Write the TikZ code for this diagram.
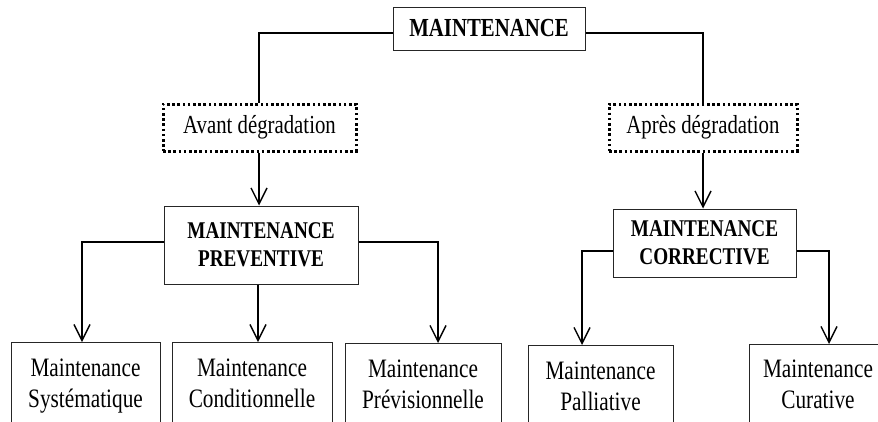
\documentclass[tikz,border=0pt]{standalone}
\usepackage{fontspec}
\setmainfont{Liberation Serif}[FakeStretch=0.8]
\usetikzlibrary{arrows.meta}
\tikzset{
  box/.style={draw=black!85, line width=1pt, inner sep=0pt, align=center},
  dotbox/.style={draw=black, line width=3pt, dash pattern=on 2.6pt off 2.6pt, inner sep=0pt, align=center},
  conn/.style={line width=1.4pt, black},
  arr/.style={conn, -{Straight Barb[length=16pt,width=16pt,line width=1.4pt]}},
  bigbold/.style={font=\fontsize{26}{28}\selectfont\bfseries},
  midbold/.style={font=\fontsize{24}{28}\selectfont\bfseries},
  plain/.style={font=\fontsize{26}{28}\selectfont},
  leaf/.style={font=\fontsize{26.6}{31}\selectfont}
}
\begin{document}
\begin{tikzpicture}[x=1pt,y=-1pt]
\useasboundingbox (0,0) rectangle (878,421);
\clip (0,0) rectangle (878,421);
% main nodes
\node[box,bigbold,minimum width=192pt,minimum height=43pt] (top) at (489,28.5) {MAINTENANCE};
\node[dotbox,plain,minimum width=193pt,minimum height=47pt] (avant) at (259.5,127.5) {Avant dégradation};
\node[dotbox,plain,minimum width=188pt,minimum height=47pt] (apres) at (703,127.5) {Après dégradation};
\node[box,midbold,minimum width=194pt,minimum height=78pt] (prev) at (261,245) {MAINTENANCE\\PREVENTIVE};
\node[box,midbold,minimum width=183pt,minimum height=68pt] (corr) at (704.5,243) {MAINTENANCE\\CORRECTIVE};
% leaf boxes (cut by bottom edge)
\node[box,minimum width=149pt,minimum height=100pt,anchor=north] (b1) at (85.5,342) {};
\node[box,minimum width=160pt,minimum height=100pt,anchor=north] (b2) at (252,342) {};
\node[box,minimum width=156pt,minimum height=100pt,anchor=north] (b3) at (423,343) {};
\node[box,minimum width=145pt,minimum height=100pt,anchor=north] (b4) at (600.5,345) {};
\node[box,minimum width=150pt,minimum height=100pt,anchor=north] (b5) at (824,344) {};
% leaf texts
\node[leaf,align=center,anchor=north] (t1) at (85.5,355) {Maintenance\\Systématique};
\node[leaf,align=center,anchor=north] (t2) at (252,355) {Maintenance\\Conditionnelle};
\node[leaf,align=center,anchor=north] (t3) at (423,356) {Maintenance\\Prévisionnelle};
\node[leaf,align=center,anchor=north] (t4) at (600.5,358) {Maintenance\\Palliative};
\node[leaf,align=center,anchor=north] (t5) at (818,356) {Maintenance\\Curative};
% connectors
\draw[conn] (top.west |- 0,33) -| (avant.north -| 259,0);
\draw[conn] (top.east |- 0,33) -| (apres.north);
\draw[arr] (avant.south -| 259,0) -- (prev.north -| 259,0);
\draw[arr] (apres.south) -- (corr.north -| 703,0);
\draw[arr] (prev.west |- 0,242) -| (b1.north -| 82,0);
\draw[arr] (prev.south -| 258,0) -- (b2.north -| 258,0);
\draw[arr] (prev.east |- 0,242) -| (b3.north -| 438,0);
\draw[arr] (corr.west |- 0,251) -| (b4.north -| 582,0);
\draw[arr] (corr.east |- 0,251) -| (b5.north -| 829,0);
\end{tikzpicture}
\end{document}
